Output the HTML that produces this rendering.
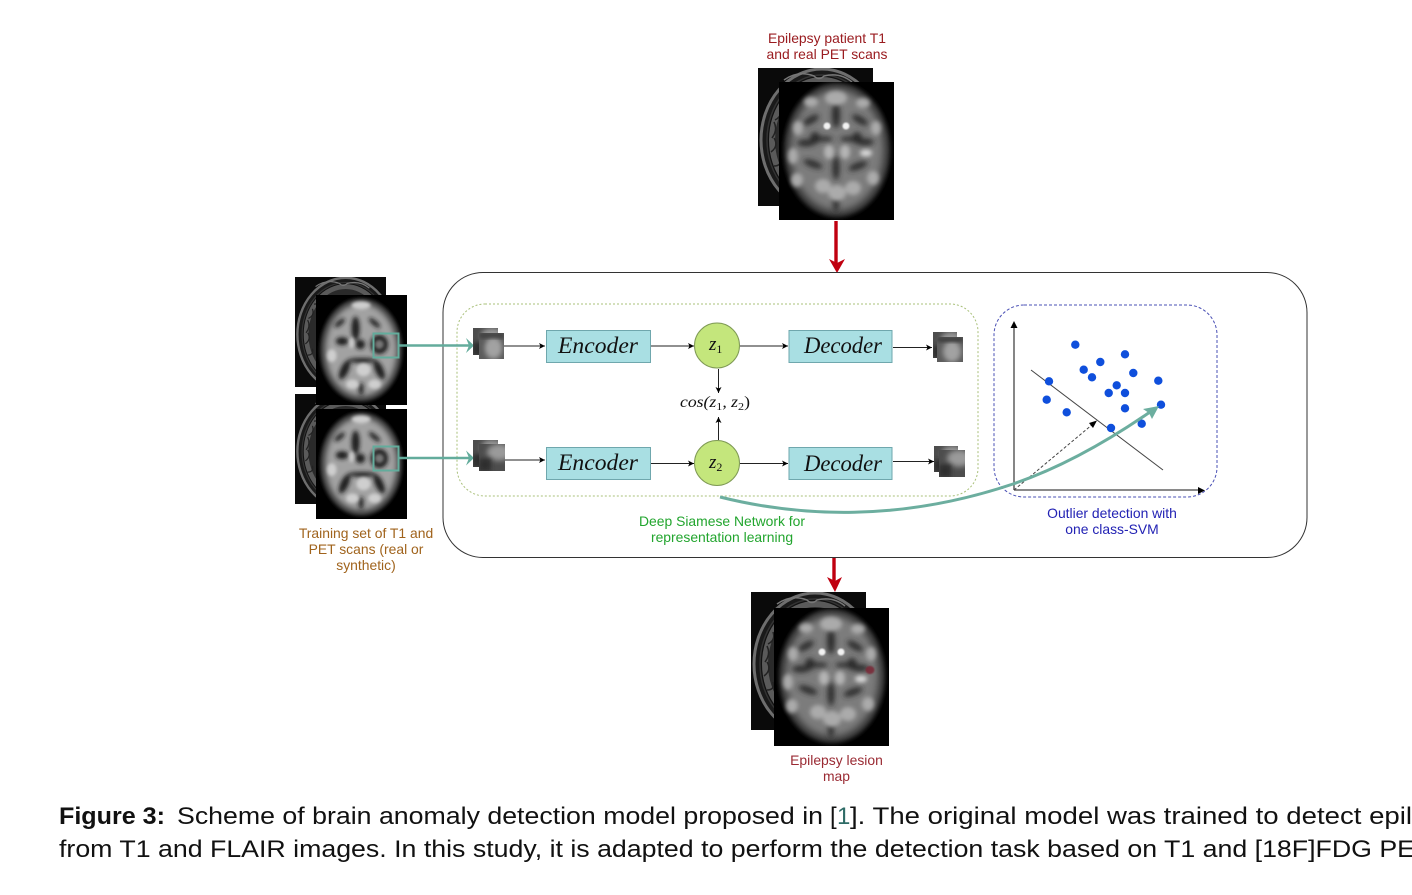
<!DOCTYPE html>
<html lang="en">
<head>
<meta charset="utf-8">
<title>Scheme of brain anomaly detection model</title>
<style>
html,body{margin:0;padding:0;background:#fff;width:1412px;height:895px;overflow:hidden}
svg{display:block}
text{font-family:"Liberation Sans",sans-serif}
.m{font-family:"Liberation Serif",serif;font-style:italic;fill:#111}
</style>
</head>
<body>
<svg width="1412" height="895" viewBox="0 0 1412 895" xmlns="http://www.w3.org/2000/svg">
<defs>
<filter id="b5" x="-20%" y="-20%" width="140%" height="140%"><feGaussianBlur stdDeviation="4"/></filter>
<filter id="b3" x="-30%" y="-30%" width="160%" height="160%"><feGaussianBlur stdDeviation="2.600"/></filter>
<filter id="b2" x="-40%" y="-40%" width="180%" height="180%"><feGaussianBlur stdDeviation="2"/></filter>
<filter id="b1" x="-10%" y="-10%" width="120%" height="120%"><feGaussianBlur stdDeviation=".7"/></filter>
<symbol id="pet" viewBox="0 0 115 138" preserveAspectRatio="none">
  <rect width="115" height="138" fill="#000"/>
  <ellipse cx="58" cy="68" rx="53" ry="67" fill="#333" filter="url(#b2)"/>
  <ellipse cx="58" cy="68" rx="47" ry="61" fill="#7c7c7c" filter="url(#b5)"/>
  <g filter="url(#b3)" fill="#2c2c2c">
    <ellipse cx="57" cy="33" rx="4" ry="13"/>
    <ellipse cx="32" cy="38" rx="9" ry="3.500" transform="rotate(-30 32 38)"/>
    <ellipse cx="81" cy="38" rx="9" ry="3.500" transform="rotate(30 81 38)"/>
    <ellipse cx="27" cy="61" rx="9" ry="3.500"/>
    <ellipse cx="86" cy="60" rx="9" ry="3.500"/>
    <ellipse cx="36" cy="56" rx="5" ry="6"/>
    <ellipse cx="78" cy="56" rx="5" ry="6"/>
    <ellipse cx="34" cy="82" rx="10" ry="3.500" transform="rotate(20 34 82)"/>
    <ellipse cx="79" cy="84" rx="10" ry="3.500" transform="rotate(-20 79 84)"/>
    <ellipse cx="57" cy="86" rx="3.500" ry="12"/>
    <ellipse cx="57" cy="120" rx="3" ry="10"/>
    <ellipse cx="45" cy="57" rx="9" ry="2.500"/>
    <ellipse cx="70" cy="57" rx="9" ry="2.500"/>
  </g>
  <g filter="url(#b2)" fill="#ababab">
    <ellipse cx="57" cy="16" rx="11" ry="7"/>
    <ellipse cx="32" cy="20" rx="7" ry="5"/>
    <ellipse cx="84" cy="21" rx="7" ry="5"/>
    <ellipse cx="19" cy="46" rx="5" ry="7"/>
    <ellipse cx="97" cy="46" rx="5" ry="7"/>
    <ellipse cx="14" cy="74" rx="5" ry="8"/>
    <ellipse cx="18" cy="98" rx="6" ry="7"/>
    <ellipse cx="44" cy="104" rx="8" ry="7"/>
    <ellipse cx="58" cy="111" rx="9" ry="8"/>
    <ellipse cx="74" cy="106" rx="8" ry="7"/>
    <ellipse cx="94" cy="96" rx="6" ry="7"/>
    <ellipse cx="50" cy="70" rx="5" ry="7" fill="#b5b5b5"/>
    <ellipse cx="66" cy="70" rx="5" ry="7" fill="#b5b5b5"/>
    <ellipse cx="87" cy="71" rx="6" ry="3.500" fill="#d8d8d8"/>
  </g>
  <g filter="url(#b1)" fill="#f2f2f2">
    <ellipse cx="48" cy="44" rx="3.500" ry="3.500"/>
    <ellipse cx="67" cy="44" rx="3.500" ry="3.500"/>
  </g>
</symbol>
<symbol id="pet2" viewBox="0 0 115 138" preserveAspectRatio="none">
  <rect width="115" height="138" fill="#000"/>
  <ellipse cx="57" cy="69" rx="52" ry="65" fill="#2e2e2e" filter="url(#b2)"/>
  <ellipse cx="57" cy="69" rx="46" ry="59" fill="#a2a2a2" filter="url(#b5)"/>
  <g filter="url(#b3)" fill="#1a1a1a">
    <ellipse cx="50" cy="42" rx="5" ry="15"/>
    <ellipse cx="33" cy="58" rx="8" ry="5"/>
    <ellipse cx="56" cy="62" rx="6" ry="6"/>
    <ellipse cx="80" cy="62" rx="11" ry="12"/>
    <ellipse cx="74" cy="35" rx="9" ry="3"  transform="rotate(40 74 35)"/>
    <ellipse cx="30" cy="35" rx="8" ry="3"  transform="rotate(-40 30 35)"/>
    <ellipse cx="36" cy="94" rx="5" ry="13" transform="rotate(25 36 94)"/>
    <ellipse cx="80" cy="94" rx="5" ry="13" transform="rotate(-25 80 94)"/>
    <ellipse cx="58" cy="82" rx="18" ry="3"/>
    <ellipse cx="57" cy="118" rx="3" ry="8"/>
  </g>
  <g filter="url(#b2)" fill="#cfcfcf">
    <ellipse cx="45" cy="60" rx="3" ry="7"/>
    <ellipse cx="60" cy="94" rx="9" ry="8"/>
    <ellipse cx="57" cy="13" rx="12" ry="5"/>
    <ellipse cx="20" cy="76" rx="6" ry="8"/>
    <ellipse cx="46" cy="112" rx="8" ry="6"/>
    <ellipse cx="74" cy="112" rx="8" ry="6"/>
  </g>
  <ellipse cx="80" cy="62" rx="6" ry="6" fill="#777" filter="url(#b2)"/>
</symbol>
<symbol id="t1" viewBox="0 0 115 138" preserveAspectRatio="none">
  <rect width="115" height="138" fill="#0a0a0a"/>
  <ellipse cx="64" cy="72" rx="61" ry="71" fill="#1a1a1a" stroke="#6e6e6e" stroke-width="3"/>
  <ellipse cx="64" cy="72" rx="55" ry="65" fill="#111" stroke="#333" stroke-width="1.500"/>
  <ellipse cx="64" cy="72" rx="50" ry="60" fill="#2a2a2a" stroke="#5a5a5a" stroke-width="6"/>
  <path d="M14 70q6-8 2-16M13 84q8-6 3-14M17 52q8-4 5-12M24 34q8 0 8-8M16 98q8 0 6-8" fill="none" stroke="#222" stroke-width="1.500"/>
  <path d="M26 12q14-10 30-4q5 5 10 0q16-4 28 6" fill="none" stroke="#777" stroke-width="1.500"/>
</symbol>
<symbol id="patchA" viewBox="0 0 26 26" preserveAspectRatio="none">
  <rect width="26" height="26" fill="#5c5c5c"/>
  <ellipse cx="15" cy="15" rx="9" ry="11" fill="#a2a2a2" filter="url(#b3)"/>
  <rect width="26" height="5" fill="#3c3c3c" filter="url(#b2)"/>
</symbol>
<symbol id="patchB" viewBox="0 0 26 26" preserveAspectRatio="none">
  <rect width="26" height="26" fill="#4d4d4d"/>
  <ellipse cx="20" cy="8" rx="12" ry="8" fill="#9a9a9a" filter="url(#b3)"/>
  <rect x="0" y="14" width="12" height="12" fill="#2d2d2d" filter="url(#b2)"/>
</symbol>
<marker id="ah" markerWidth="8" markerHeight="8" refX="6" refY="3" orient="auto" markerUnits="userSpaceOnUse"><path d="M0 0L6 3L0 6L1.500 3Z" fill="#000"/></marker>
</defs>

<!-- Top brains -->
<use href="#t1" x="758" y="68" width="115" height="138"/>
<use href="#pet" x="779" y="82" width="115" height="138"/>
<g font-size="13.900" fill="#9a1c20" text-anchor="middle">
<text x="827" y="43">Epilepsy patient T1</text>
<text x="827" y="59">and real PET scans</text>
</g>

<!-- Red arrows -->
<path d="M836 221V263" stroke="#c00010" stroke-width="3.400" fill="none"/>
<path d="M829 259L837 263L845 259L837 273Z" fill="#c00010"/>
<path d="M834 557V581" stroke="#c00010" stroke-width="3.400" fill="none"/>
<path d="M827 577L835 581L842 577L835 592Z" fill="#c00010"/>

<!-- Outer frames -->
<rect x="443" y="272.500" width="864" height="285" rx="40" ry="40" fill="none" stroke="#333" stroke-width="1"/>
<rect x="457" y="304" width="521" height="192" rx="28" ry="28" fill="none" stroke="#a9c07a" stroke-width="1" stroke-dasharray="2 2"/>
<rect x="994" y="305" width="223" height="192" rx="30" ry="30" fill="none" stroke="#4a50b5" stroke-width="1" stroke-dasharray="3 2"/>

<!-- Training brains -->
<use href="#t1" x="295" y="277" width="91" height="110"/>
<use href="#t1" x="295" y="394" width="91" height="110"/>
<use href="#pet2" x="316" y="295" width="91" height="110"/>
<use href="#pet2" x="316" y="409" width="91" height="110"/>
<rect x="373.500" y="333.500" width="25" height="24" fill="none" stroke="#63ac9c" stroke-width="2"/>
<rect x="373.500" y="446.500" width="25" height="24" fill="none" stroke="#63ac9c" stroke-width="2"/>
<path d="M399 345.500H470M399 458H470" stroke="#63ac9c" stroke-width="2.400" fill="none"/>
<path d="M466 338L474 345.500L466 353L469 345.500Z M466 450.500L474 458L466 465.500L469 458Z" fill="#63ac9c"/>
<g font-size="13.900" fill="#a0631c" text-anchor="middle">
<text x="366" y="538">Training set of T1 and</text>
<text x="366" y="554">PET scans (real or</text>
<text x="366" y="570">synthetic)</text>
</g>

<!-- Patches -->
<use href="#patchB" x="473" y="328" width="25" height="27"/>
<use href="#patchA" x="479" y="333" width="25" height="26"/>
<use href="#patchB" x="473" y="440" width="25" height="27"/>
<use href="#patchB" x="479" y="444" width="26" height="27"/>
<use href="#patchB" x="933" y="332" width="24" height="26"/>
<use href="#patchA" x="937" y="337" width="26" height="25"/>
<use href="#patchB" x="934" y="446" width="24" height="26"/>
<use href="#patchB" x="939" y="450" width="26" height="27"/>

<!-- Connectors -->
<g stroke="#222" stroke-width="1" fill="none">
<path d="M504 346H545" marker-end="url(#ah)"/>
<path d="M505 460H545" marker-end="url(#ah)"/>
<path d="M650 346H694" marker-end="url(#ah)"/>
<path d="M650 463.500H694" marker-end="url(#ah)"/>
<path d="M740 346H788" marker-end="url(#ah)"/>
<path d="M740 463.500H788" marker-end="url(#ah)"/>
<path d="M893 347.500H932" marker-end="url(#ah)"/>
<path d="M893 461.500H934" marker-end="url(#ah)"/>
<path d="M718.500 369V393" marker-end="url(#ah)"/>
<path d="M718.500 440V417" marker-end="url(#ah)"/>
</g>

<!-- Encoders / Decoders -->
<g fill="#a9dfe3" stroke="#6fa7ad" stroke-width="1">
<rect x="546.500" y="330.500" width="104" height="32"/>
<rect x="546.500" y="447.500" width="104" height="32"/>
<rect x="789" y="330.500" width="103" height="32"/>
<rect x="789" y="447.500" width="103" height="32"/>
</g>
<g font-size="23">
<text class="m" x="558" y="353" textLength="80" lengthAdjust="spacingAndGlyphs">Encoder</text>
<text class="m" x="558" y="470" textLength="80" lengthAdjust="spacingAndGlyphs">Encoder</text>
<text class="m" x="804" y="353" textLength="78" lengthAdjust="spacingAndGlyphs">Decoder</text>
<text class="m" x="804" y="471" textLength="78" lengthAdjust="spacingAndGlyphs">Decoder</text>
</g>

<!-- z circles -->
<circle cx="717" cy="345.500" r="22.500" fill="#c4e67c" stroke="#7f9a55" stroke-width="1"/>
<circle cx="717" cy="463" r="22.500" fill="#c4e67c" stroke="#7f9a55" stroke-width="1"/>
<text class="m" x="709" y="350" font-size="19">z<tspan font-style="normal" font-size="12" dy="3">1</tspan></text>
<text class="m" x="709" y="468" font-size="19">z<tspan font-style="normal" font-size="12" dy="3">2</tspan></text>
<text class="m" x="680" y="407" font-size="16" textLength="70" lengthAdjust="spacingAndGlyphs">cos(z<tspan font-style="normal" font-size="11" dy="3">1</tspan><tspan dy="-3">, z</tspan><tspan font-style="normal" font-size="11" dy="3">2</tspan><tspan dy="-3" font-style="normal">)</tspan></text>

<g font-size="13.900" text-anchor="middle">
<text x="722" y="526" fill="#22a52e">Deep Siamese Network for</text>
<text x="722" y="542" fill="#22a52e">representation learning</text>
<text x="1112" y="518" fill="#2222b4">Outlier detection with</text>
<text x="1112" y="534" fill="#2222b4">one class-SVM</text>
</g>

<!-- SVM plot -->
<g fill="none">
<path d="M1014 490V326M1014 490H1199" stroke="#444" stroke-width="1.300"/>
<path d="M1031 370L1163 470" stroke="#444" stroke-width="1"/>
<path d="M1014 490L1093 424" stroke="#444" stroke-width="1" stroke-dasharray="3 2"/>
</g>
<path d="M1014 321L1017.500 328H1010.500Z M1205 490.500L1198 487V494Z M1097 420.500L1093 428L1089 423Z" fill="#000"/>
<g fill="#0f4fdc">
<circle cx="1075.300" cy="344.700" r="4.200"/><circle cx="1125" cy="354.300" r="4.200"/>
<circle cx="1100.300" cy="362" r="4.200"/><circle cx="1083.700" cy="369.700" r="4.200"/>
<circle cx="1092" cy="377.300" r="4.200"/><circle cx="1133.300" cy="373" r="4.200"/>
<circle cx="1049" cy="381.300" r="4.200"/><circle cx="1158.300" cy="380.700" r="4.200"/>
<circle cx="1116.700" cy="385.300" r="4.200"/><circle cx="1108.700" cy="393" r="4.200"/>
<circle cx="1125" cy="393" r="4.200"/><circle cx="1046.700" cy="399.700" r="4.200"/>
<circle cx="1066.700" cy="412.300" r="4.200"/><circle cx="1125" cy="408.300" r="4.200"/>
<circle cx="1161" cy="404.700" r="4.200"/><circle cx="1141.700" cy="423.700" r="4.200"/>
<circle cx="1111" cy="428" r="4.200"/>
</g>

<!-- Teal curve -->
<path d="M720 497C800 517 900 522 1013 484C1060 468 1105 443 1150 412" fill="none" stroke="#6cae9f" stroke-width="3"/>
<path d="M1159 406L1152 419L1149 413L1143 409Z" fill="#6cae9f"/>

<!-- Bottom brains -->
<use href="#t1" x="751" y="592" width="115" height="138"/>
<use href="#pet" x="774" y="608" width="115" height="138"/>
<ellipse cx="870" cy="670" rx="4.500" ry="4" fill="#7a2430" opacity=".8" filter="url(#b1)"/>
<g font-size="13.900" fill="#9a2a33" text-anchor="middle">
<text x="836.500" y="765">Epilepsy lesion</text>
<text x="836.500" y="781">map</text>
</g>

<!-- Caption -->
<g font-size="24" fill="#111">
<text x="59" y="824" font-weight="bold" textLength="106" lengthAdjust="spacingAndGlyphs">Figure 3:</text>
<text x="177" y="824" textLength="646" lengthAdjust="spacingAndGlyphs">Scheme of brain anomaly detection model proposed in</text>
<text x="830" y="824">[</text>
<text x="837" y="824" fill="#2e6b66">1</text>
<text x="850" y="824" textLength="562" lengthAdjust="spacingAndGlyphs">]. The original model was trained to detect epil</text>
<text x="59" y="857" textLength="1356" lengthAdjust="spacingAndGlyphs">from T1 and FLAIR images. In this study, it is adapted to perform the detection task based on T1 and [18F]FDG PE</text>
</g>
</svg>
</body>
</html>
